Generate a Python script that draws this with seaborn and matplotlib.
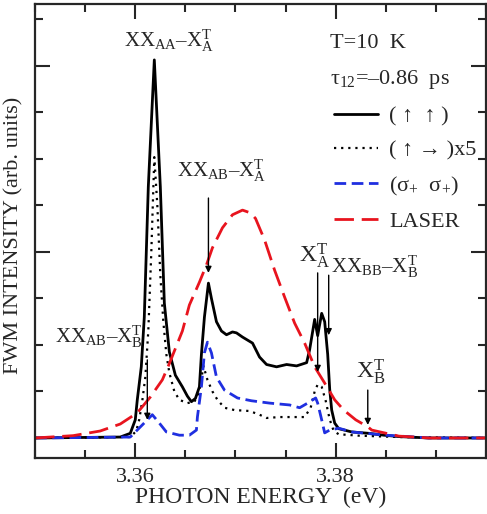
import matplotlib
matplotlib.use('Agg')
import matplotlib.pyplot as plt
import seaborn as sns
from matplotlib.ticker import MultipleLocator, FixedLocator

# Data (energy in eV, intensity in arb. units)
e_solid = [3.3500, 3.3585, 3.3595, 3.3600, 3.3602, 3.3606, 3.3609, 3.3613, 3.3619, 3.3625,
           3.3629, 3.3634, 3.3640, 3.3647, 3.3652, 3.3656, 3.3660, 3.3664, 3.3666, 3.3669,
           3.3673, 3.3676, 3.3681, 3.3686, 3.3691, 3.3697, 3.3701, 3.3707, 3.3717, 3.3724,
           3.3731, 3.3741, 3.3751, 3.3761, 3.3771, 3.3774, 3.3779, 3.3782, 3.3786, 3.3789,
           3.3792, 3.3794, 3.3796, 3.3799, 3.3803, 3.3816, 3.3833, 3.3848, 3.3863, 3.3893, 3.3950]
i_solid = [0.0, 0.02, 0.1, 0.39, 0.82, 1.53, 2.6, 5.4, 8.13, 5.4,
           2.9, 1.85, 1.35, 1.1, 0.9, 0.78, 0.85, 1.1, 1.8, 2.6,
           3.33, 3.0, 2.5, 2.3, 2.22, 2.28, 2.26, 2.17, 2.04, 1.74,
           1.58, 1.53, 1.58, 1.55, 1.62, 1.9, 2.55, 2.2, 2.68, 2.5,
           1.8, 1.05, 0.6, 0.32, 0.2, 0.13, 0.1, 0.06, 0.03, 0.0, 0.0]

e_dot = [3.3500, 3.3595, 3.3601, 3.3604, 3.3607, 3.3610, 3.3613, 3.3616, 3.3619, 3.3622,
         3.3625, 3.3628, 3.3631, 3.3634, 3.3639, 3.3644, 3.3652, 3.3659, 3.3664, 3.3668,
         3.3672, 3.3677, 3.3682, 3.3689, 3.3699, 3.3714, 3.3724, 3.3731, 3.3744, 3.3757,
         3.3769, 3.3775, 3.3779, 3.3782, 3.3786, 3.3790, 3.3794, 3.3798, 3.3803, 3.3823,
         3.3863, 3.3950]
i_dot = [0.0, 0.02, 0.15, 0.4, 0.8, 1.3, 2.3, 4.0, 6.04, 5.0,
         3.5, 2.5, 1.8, 1.4, 1.0, 0.82, 0.75, 0.78, 1.0, 1.55,
         1.25, 1.0, 0.82, 0.65, 0.6, 0.58, 0.5, 0.43, 0.45, 0.45,
         0.45, 0.65, 1.0, 1.15, 1.1, 0.8, 0.4, 0.15, 0.08, 0.05,
         0.02, 0.0]

e_sig = [3.3500, 3.3595, 3.3607, 3.3617, 3.3624, 3.3631, 3.3644, 3.3654, 3.3661, 3.3662,
         3.3666, 3.3669, 3.3672, 3.3676, 3.3681, 3.3689, 3.3702, 3.3716, 3.3734, 3.3754,
         3.3764, 3.3772, 3.3780, 3.3782, 3.3786, 3.3789, 3.3794, 3.3803, 3.3816, 3.3850,
         3.3893, 3.3950]
i_sig = [0.0, 0.02, 0.28, 0.5, 0.32, 0.13, 0.06, 0.06, 0.17, 0.45,
         1.1, 1.83, 2.06, 1.83, 1.31, 1.03, 0.86, 0.8, 0.75, 0.71,
         0.65, 0.75, 0.86, 0.75, 0.39, 0.11, 0.17, 0.21, 0.13, 0.06,
         0.0, 0.0]

e_laser = [3.3500, 3.3538, 3.3565, 3.3585, 3.3602, 3.3615, 3.3627, 3.3634, 3.3647, 3.3654,
           3.3664, 3.3671, 3.3677, 3.3687, 3.3697, 3.3707, 3.3715, 3.3720, 3.3729, 3.3739,
           3.3749, 3.3759, 3.3769, 3.3779, 3.3789, 3.3799, 3.3808, 3.3820, 3.3832, 3.3836,
           3.3863, 3.3893, 3.3950]
i_laser = [0.0, 0.05, 0.15, 0.3, 0.54, 0.88, 1.25, 1.6, 2.3, 2.86,
           3.35, 3.72, 4.09, 4.52, 4.8, 4.9, 4.84, 4.72, 4.26, 3.61,
           3.03, 2.47, 2.04, 1.53, 1.18, 0.82, 0.6, 0.39, 0.24, 0.17,
           0.04, 0.0, 0.0]

legend_labels = ['( \u2191  \u2191 )', '( \u2191 \u2192 )x5', '(\u03c3$_{+}$  \u03c3$_{+}$)', 'LASER']

sns.set_style('ticks')
plt.rcParams['font.family'] = ['Liberation Serif', 'DejaVu Serif']
plt.rcParams['mathtext.fontset'] = 'custom'
plt.rcParams['mathtext.rm'] = 'Liberation Serif'
plt.rcParams['mathtext.it'] = 'Liberation Serif:italic'

fig, ax = plt.subplots(figsize=(4.87, 5.14), dpi=100)
fig.subplots_adjust(left=0.072, right=0.998, top=0.992, bottom=0.109)

sns.lineplot(x=e_solid, y=i_solid, ax=ax, color='black', lw=2.0, sort=False, label=legend_labels[0])
sns.lineplot(x=e_dot, y=i_dot, ax=ax, color='black', lw=1.6, sort=False, label=legend_labels[1])
ax.lines[-1].set_dashes([1, 2.2])
sns.lineplot(x=e_sig, y=i_sig, ax=ax, color='#1f2fe0', lw=2.0, sort=False, label=legend_labels[2])
ax.lines[-1].set_dashes([4.2, 2.0])
sns.lineplot(x=e_laser, y=i_laser, ax=ax, color='#e8141e', lw=2.0, sort=False, label=legend_labels[3])
ax.lines[-1].set_dashes([7, 2.8])

ax.set_xlim(3.35, 3.395)
ax.set_ylim(-0.43, 9.33)
ax.xaxis.set_major_locator(FixedLocator([3.36, 3.38]))
ax.xaxis.set_minor_locator(MultipleLocator(0.005))
ax.set_xticklabels(['3.36', '3.38'])
ax.yaxis.set_major_locator(MultipleLocator(4))
ax.yaxis.set_minor_locator(MultipleLocator(1))
ax.set_yticklabels([])
ax.tick_params(which='both', direction='in', top=True, right=True, width=1.5, labelsize=16, pad=7)
ax.tick_params(which='major', length=11)
ax.tick_params(which='minor', length=6)
for s in ax.spines.values():
    s.set_linewidth(1.6)

ax.set_xlabel('PHOTON ENERGY  (eV)', fontsize=17, labelpad=0)
ax.set_ylabel('FWM INTENSITY (arb. units)', fontsize=16)
ax.yaxis.set_label_coords(-0.026, 0.49)

# peak labels
fs = 15
ax.text(3.3634, 8.41, 'XX$_{\\rm AA}$\u2013X$_{\\rm A}^{\\rm T}$', ha='center', va='baseline', fontsize=fs)
ax.text(3.3686, 5.61, 'XX$_{\\rm AB}$\u2013X$_{\\rm A}^{\\rm T}$', ha='center', va='baseline', fontsize=fs)
ax.text(3.3564, 2.04, 'XX$_{\\rm AB}$\u2013X$_{\\rm B}^{\\rm T}$', ha='center', va='baseline', fontsize=fs)
ax.text(3.3779, 3.78, 'X$_{\\rm A}^{\\rm T}$', ha='center', va='baseline', fontsize=fs + 2)
ax.text(3.3839, 3.55, 'XX$_{\\rm BB}$\u2013X$_{\\rm B}^{\\rm T}$', ha='center', va='baseline', fontsize=fs)
ax.text(3.3835, 1.29, 'X$_{\\rm B}^{\\rm T}$', ha='center', va='baseline', fontsize=fs + 2)

arrows = [(3.3673, 5.16, 3.55), (3.3612, 1.68, 0.39), (3.3782, 3.55, 1.42),
          (3.3793, 3.50, 2.21), (3.3832, 1.03, 0.28)]
for xa, y0, y1 in arrows:
    ax.annotate('', xy=(xa, y1), xytext=(xa, y0),
                arrowprops=dict(arrowstyle='-|>', color='black', lw=1.0,
                                mutation_scale=9, shrinkA=0, shrinkB=0))

ax.text(0.653, 0.914, 'T=10  K', transform=ax.transAxes, fontsize=16, va='center')
ax.text(0.653, 0.833, '\u03c4$_{12}$=\u20130.86  ps', transform=ax.transAxes, fontsize=16, va='center')

ax.legend(loc='upper left', bbox_to_anchor=(0.643, 0.795), frameon=False, fontsize=16,
          handlelength=2.0, handletextpad=0.5, labelspacing=0.62, borderaxespad=0)

fig.savefig('out.png', dpi=100)
